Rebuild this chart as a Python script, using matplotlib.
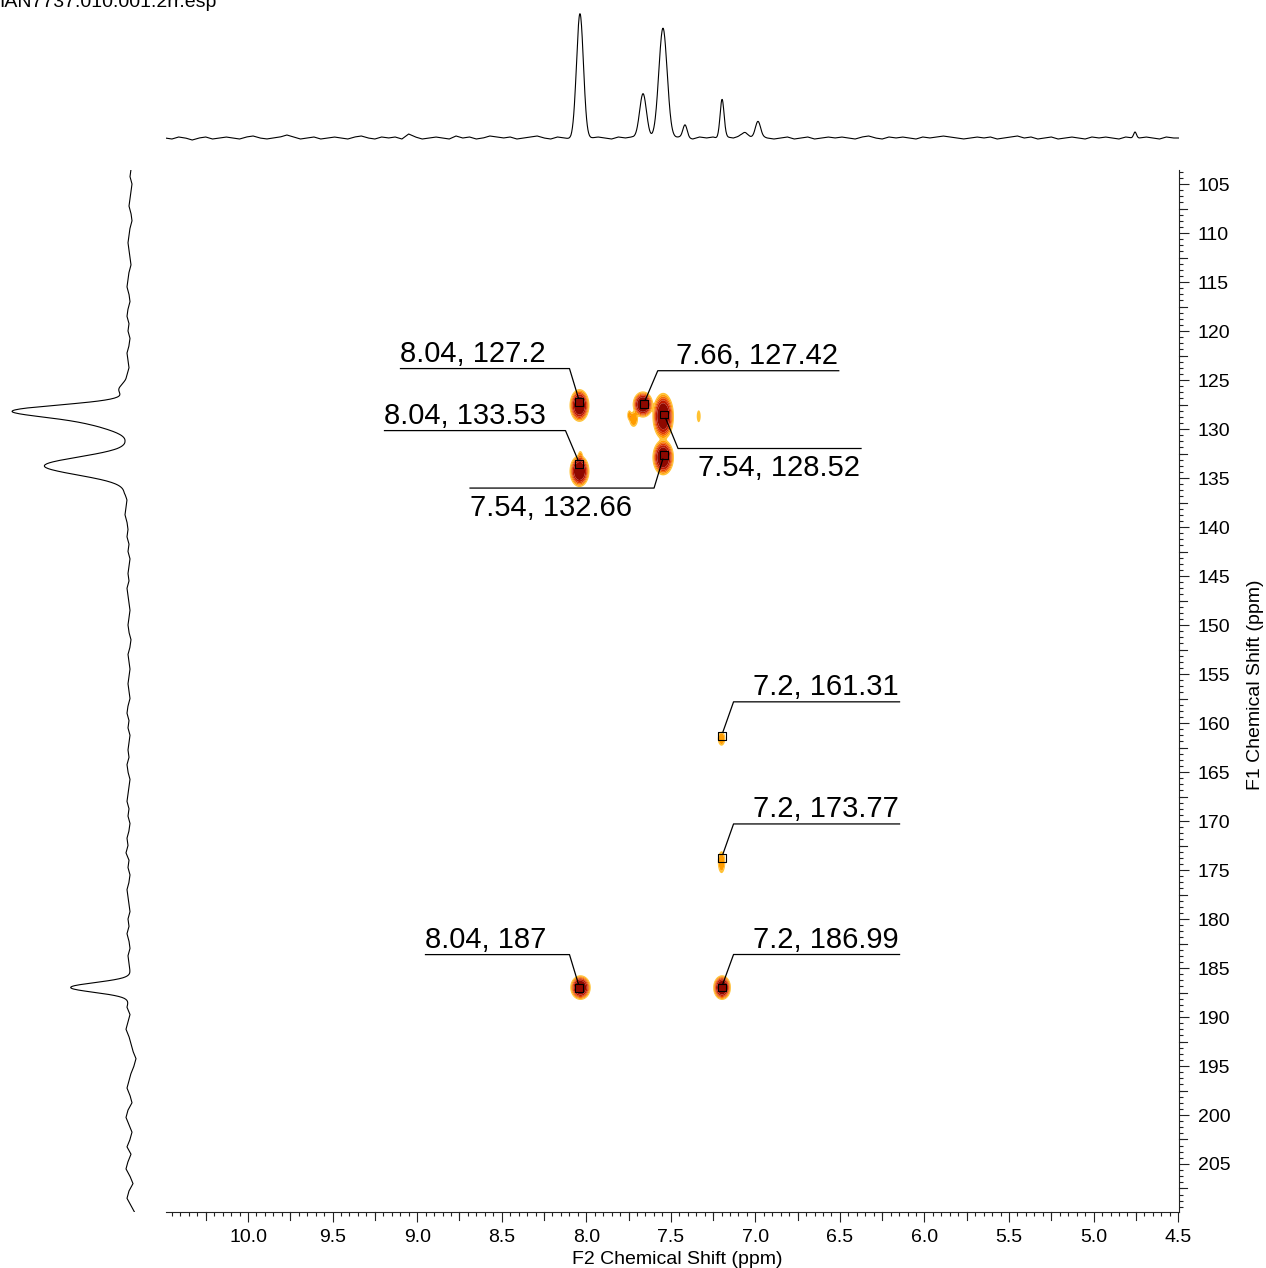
import numpy as np
import matplotlib
matplotlib.use("Agg")
import matplotlib.pyplot as plt
from matplotlib.lines import Line2D
from matplotlib.ticker import MultipleLocator, FormatStrFormatter

plt.rcParams['font.family'] = ['Liberation Sans', 'DejaVu Sans']

# ---------------------------------------------------------------- data ----
file_name = "IAN7737.010.001.2rr.esp"
x_label = "F2 Chemical Shift (ppm)"
y_label = "F1 Chemical Shift (ppm)"

# peak-picked cross peaks (F2 ppm, F1 ppm)
pick_f2 = [8.04, 7.66, 8.04, 7.54, 7.54, 7.2, 7.2, 8.04, 7.2]
pick_f1 = [127.2, 127.42, 133.53, 128.52, 132.66, 161.31, 173.77, 187, 186.99]

# 2D cross-peak shapes: centre, widths (ppm) and relative intensity
xpk_f2 = [8.040, 8.035, 8.040, 7.665, 7.720, 7.745, 7.545, 7.545, 7.335, 7.200, 7.200, 8.034, 7.197]
xpk_f1 = [127.6, 132.9, 134.3, 127.5, 129.0, 128.6, 128.7, 132.9, 128.7, 161.6, 174.2, 187.0, 187.0]
xpk_sx = [0.037, 0.012, 0.037, 0.038, 0.020, 0.010, 0.040, 0.040, 0.010, 0.017, 0.017, 0.038, 0.033]
xpk_sy = [1.05, 0.50, 1.02, 0.84, 0.60, 0.40, 1.50, 1.15, 0.52, 0.55, 0.86, 0.79, 0.79]
xpk_amp = [3.0, 0.5, 3.0, 3.0, 0.5, 0.4, 3.0, 3.0, 0.3, 0.5, 0.5, 3.0, 3.0]

# F2 (1H) projection: peaks (ppm, height, FWHM ppm)
top_ppm = [8.037, 7.664, 7.546, 7.416, 7.197, 6.985, 7.060, 4.755]
top_height = [124, 45, 110, 13, 39, 15, 5, 6]
top_fwhm = [0.048, 0.048, 0.058, 0.030, 0.028, 0.035, 0.040, 0.020]
# F2 projection baseline, 10.49 -> 4.49 ppm
top_baseline = [
    0, -1, 1, 0, -2, 0, 1, -1, 0, 1,
    0, -1, 1, 2, 0, -1, 0, 1, 3, 1,
    -1, 0, 1, -1, 0, 1, 0, -1, 1, 2,
    0, -1, 1, 0, 1, -1, 4, 1, -1, 0,
    1, 0, -1, 2, 0, 1, -1, 0, 2, 1,
    0, 1, -1, 0, 1, 2, 0, -1, 1, 0,
    -1, 1, -1, 0, 1, 0, -1, 1, 0, 1,
    0, -1, 0, 1, -1, 0, 1, 0, -1, 1,
    0, 1, -1, 1, 0, 2, 0, 1, 2, 0,
    -1, 0, 1, -1, 0, 1, -1, 0, 1, 0,
    1, 0, -1, 1, 2, 0, -1, 1, 0, 1,
    0, -1, 1, 0, 1, 2, 1, 0, -1, 0,
    1, 0, 1, -1, 0, 1, 2, 0, 1, -1,
    0, 1, -1, 0, 1, 0, -1, 1, 0, 1,
    0, -1, 1, 0, 0, 1, 0, -1, 1, 0,
    0]

# F1 (13C) projection: peaks (ppm, height, sigma ppm)
left_ppm = [128.1, 129.2, 126.0, 133.78, 187.0]
left_height = [100, 38, 8, 84, 60]
left_sigma = [0.60, 0.80, 0.50, 0.90, 0.50]
# F1 projection baseline, 103.5 -> 210 ppm
left_baseline = [
    -1, 0, -2, -1, 0, 1, -1, -2, 0, 1,
    2, 1, 0, -1, 1, 2, 3, 1, 0, 2,
    3, 1, 2, 0, 1, 3, 2, 1, 3, 4,
    3, 2, 1, 2, 1, 0, 1, 2, 1, 2,
    2, 1, 3, 4, 5, 3, 4, 5, 3, 2,
    3, 1, 2, 0, 1, 2, 1, 3, 2, 1,
    0, 1, 2, 1, -1, 0, 2, 1, 0, 1,
    2, 1, 0, 2, 3, 1, 2, 0, 1, 2,
    1, 3, 2, 0, 1, 2, 3, 1, 2, 0,
    1, 3, 2, 4, 1, 2, 0, 1, 3, 2,
    1, 0, 2, 1, 3, 1, 0, 2, 1, 0,
    -1, 0, -2, 1, 3, 0, 2, 4, 1, -1,
    -3, -6, -4, -1, 1, 3, 0, -2, 2, 4,
    1, -2, 0, 3, -1, 2, 4, 0, -3, 1,
    3, -1, -5]

# ---------------------------------------------------------------- layout --
W, H = 1266, 1268
fig = plt.figure(figsize=(W / 100, H / 100), dpi=100)


def rect(x0, y0, x1, y1):
    """pixel box (origin top-left) -> figure-fraction rectangle"""
    return [x0 / W, 1 - y1 / H, (x1 - x0) / W, (y1 - y0) / H]


XLIM = (10.485, 4.495)
YLIM = (209.898, 103.571)

ax = fig.add_axes(rect(166, 170, 1179, 1212))
ax_top = fig.add_axes(rect(166, 8, 1179, 150))
ax_left = fig.add_axes(rect(5, 170, 145, 1212))

# --------------------------------------------------------- 2D contours ----
g2 = np.arange(8.20, 7.10, -0.002)
g1 = np.arange(124.0, 190.0, 0.04)
G2, G1 = np.meshgrid(g2, g1)
Z = np.zeros_like(G2)
for c2, c1, s2, s1, a in zip(xpk_f2, xpk_f1, xpk_sx, xpk_sy, xpk_amp):
    r2 = ((G2 - c2) / s2) ** 2 + ((G1 - c1) / s1) ** 2
    Z += a * np.exp(-0.5 * r2 ** 2)

levels = [0.12, 0.3, 0.6, 1.0, 1.5, 2.2, 10]
fills = ['#FFC232', '#FF9C00', '#F46A00', '#E03A00', '#C01A00', '#8E0800']
ax.contourf(G2, G1, Z, levels=levels, colors=fills, antialiased=True, zorder=2)

ax.set_xlim(*XLIM)
ax.set_ylim(*YLIM)

for side in ('top', 'left'):
    ax.spines[side].set_visible(False)
for side in ('bottom', 'right'):
    ax.spines[side].set_linewidth(0.8)
    ax.spines[side].set_color('#222222')

ax.xaxis.set_major_locator(MultipleLocator(0.5))
ax.xaxis.set_minor_locator(MultipleLocator(0.05))
ax.xaxis.set_major_formatter(FormatStrFormatter('%.1f'))
ax.yaxis.set_major_locator(MultipleLocator(5))
ax.yaxis.set_minor_locator(MultipleLocator(0.625))
ax.yaxis.set_major_formatter(FormatStrFormatter('%d'))
ax.yaxis.tick_right()
ax.tick_params(which='both', direction='out', color='#222222', width=0.8)
ax.tick_params(which='major', length=7.4, labelsize=14)
ax.tick_params(axis='x', which='major', pad=4.5)
ax.tick_params(axis='y', which='major', pad=6)
ax.tick_params(which='minor', length=3.2)

# peak boxes
ax.scatter(pick_f2, pick_f1, marker='s', s=33, facecolors='none',
           edgecolors='black', linewidths=0.8, zorder=5)

# ----------------------------------------------------------- projections --
t_ppm = np.arange(10.49, 4.489, -0.002)
t_base = np.interp(t_ppm[::-1], np.linspace(4.49, 10.49, len(top_baseline)),
                   top_baseline[::-1])[::-1]
t_int = t_base.astype(float)
for p, h, w in zip(top_ppm, top_height, top_fwhm):
    s = w / 2.3548
    t_int = t_int + h * np.exp(-0.5 * ((t_ppm - p) / s) ** 2)
ax_top.plot(t_ppm, t_int, color='black', lw=0.8)
ax_top.set_xlim(*XLIM)
ax_top.set_ylim(-12, 130)
ax_top.axis('off')

l_ppm = np.arange(103.5, 210.0, 0.05)
l_int = np.interp(l_ppm, np.linspace(103.5, 210.0, len(left_baseline)),
                  left_baseline).astype(float)
for p, h, s in zip(left_ppm, left_height, left_sigma):
    l_int = l_int + h * np.exp(-0.5 * ((l_ppm - p) / s) ** 2)
ax_left.plot(l_int, l_ppm, color='black', lw=0.8)
ax_left.set_xlim(125, -15)
ax_left.set_ylim(*YLIM)
ax_left.axis('off')


# ---------------------------------------------------- helpers in pixels ---
def to_px(x, y):
    d = ax.transData.transform((x, y))
    return d[0], H - d[1]


def px_line(xs, ys, **kw):
    fig.add_artist(Line2D([x / W for x in xs], [1 - y / H for y in ys],
                          transform=fig.transFigure, **kw))


def px_text(x, y, s, **kw):
    fig.text(x / W, 1 - y / H, s, **kw)


# intermediate ticks every 0.25 ppm / 2.5 ppm
for v in np.arange(10.25, 4.5, -0.5):
    px, py = to_px(v, YLIM[0])
    px_line([px, px], [py, py + 8], color='#222222', lw=0.8)
for v in np.arange(107.5, 209.0, 5.0):
    px, py = to_px(XLIM[1], v)
    px_line([px, px + 8], [py, py], color='#222222', lw=0.8)

# peak labels with leader lines: (corner dx, corner dy, underline length, side)
label_layout = [(-10, -33, -169, 'above'), (14, -33, 181, 'above'),
                (-14, -33, -181, 'above'), (14, 34, 183, 'below'),
                (-10, 33, -184, 'below'), (12, -34, 166, 'above'),
                (12, -34, 166, 'above'), (-10, -33, -144, 'above'),
                (12, -33, 166, 'above')]

for f2, f1, (dx, dy, ln, side) in zip(pick_f2, pick_f1, label_layout):
    bx, by = to_px(f2, f1)
    cx, cy = bx + dx, by + dy
    # stop the leader at the box edge
    t = 4.0 / abs(dy)
    ex, ey = bx + dx * t, by + dy * t
    far = cx + ln
    px_line([ex, cx, far], [ey, cy, cy], color='black', lw=0.9)
    text = f"{f2:g}, {f1:g}"
    if ln < 0:
        tx, ha = far, 'left'
    else:
        tx, ha = far - 1, 'right'
    ty = cy - 7 if side == 'above' else cy + 28
    px_text(tx, ty, text, ha=ha, va='baseline', fontsize=21, color='black')

# titles
px_text(-1, 7, file_name, ha='left', va='baseline', fontsize=14)
px_text(677, 1264, x_label, ha='center', va='baseline', fontsize=14)
px_text(1256, 685, y_label, ha='center', va='center', rotation=90, fontsize=14)

fig.savefig("out.png", dpi=100)
